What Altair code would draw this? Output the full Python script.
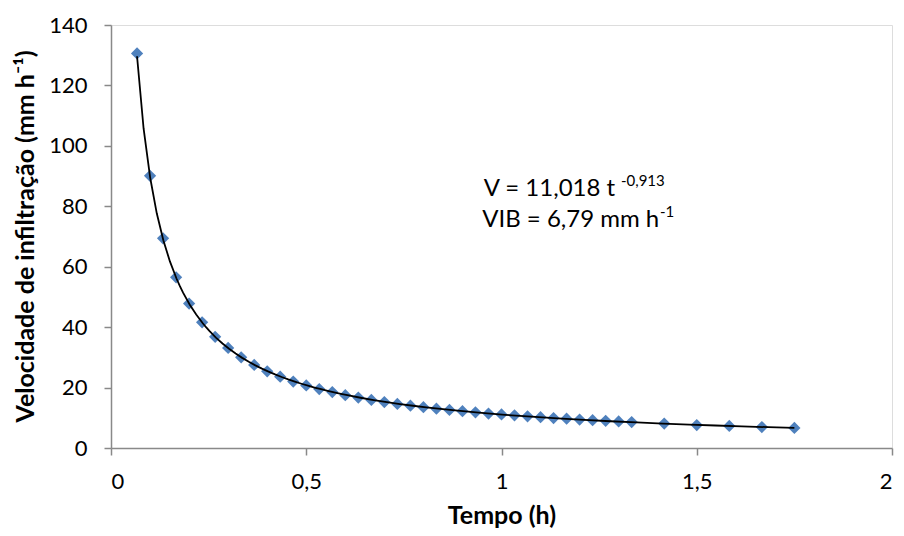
import altair as alt
import pandas as pd

# Tempo (h) and velocidade de infiltração (mm h-1)
tempo_h = [0.0667, 0.1, 0.1333, 0.1667, 0.2, 0.2333, 0.2667, 0.3, 0.3333, 0.3667,
           0.4, 0.4333, 0.4667, 0.5, 0.5333, 0.5667, 0.6, 0.6333, 0.6667, 0.7,
           0.7333, 0.7667, 0.8, 0.8333, 0.8667, 0.9, 0.9333, 0.9667, 1.0, 1.0333,
           1.0667, 1.1, 1.1333, 1.1667, 1.2, 1.2333, 1.2667, 1.3, 1.3333, 1.4167,
           1.5, 1.5833, 1.6667, 1.75]
velocidade = [130.6, 90.1, 69.4, 56.5, 47.8, 41.6, 36.8, 33.1, 30.0, 27.5,
              25.4, 23.6, 22.0, 20.7, 19.5, 18.5, 17.5, 16.7, 15.9, 15.2,
              14.6, 14.0, 13.5, 13.0, 12.6, 12.2, 11.8, 11.4, 11.1, 10.8,
              10.5, 10.2, 9.9, 9.7, 9.4, 9.2, 9.0, 8.8, 8.6, 8.1,
              7.6, 7.3, 6.95, 6.65]

x_ticks = [0, 0.5, 1, 1.5, 2]
y_ticks = [0, 20, 40, 60, 80, 100, 120, 140]

# annotation texts (main part + superscript)
ann_main = ["V = 11,018 t", "VIB = 6,79 mm h"]
ann_sup = ["-0,913", "-1"]
ann_x = [1.291, 1.404]
ann_y = [83.5, 73.3]
sup_x = [1.306, 1.406]
sup_y = [86.6, 76.3]

FONT = "Lato"
AXIS_COLOR = "#898989"

df = pd.DataFrame({"t": tempo_h, "v": velocidade})
ann_df = pd.DataFrame({"x": ann_x, "y": ann_y, "txt": ann_main})
sup_df = pd.DataFrame({"x": sup_x, "y": sup_y, "txt": ann_sup})

x_scale = alt.Scale(domain=[0, 2], nice=False, zero=False)
y_scale = alt.Scale(domain=[0, 140], nice=False)

x_axis = alt.Axis(values=x_ticks, title="Tempo (h)", grid=False,
                  labelExpr="replace(toString(datum.value), '.', ',')",
                  domainColor=AXIS_COLOR, domainWidth=1.5, tickColor=AXIS_COLOR,
                  tickWidth=1.5, tickSize=7, labelFont=FONT, labelFontSize=22,
                  labelColor="black", labelPadding=16, titleFont=FONT,
                  titleFontSize=25, titleFontWeight="bold", titleColor="black",
                  titlePadding=11)
y_axis = alt.Axis(values=y_ticks, title="Velocidade de infiltração (mm h⁻¹)",
                  grid=False, domainColor=AXIS_COLOR, domainWidth=1.5,
                  tickColor=AXIS_COLOR, tickWidth=1.5, tickSize=7,
                  labelFont=FONT, labelFontSize=22, labelColor="black",
                  labelPadding=17, titleFont=FONT, titleFontSize=25,
                  titleFontWeight="bold", titleColor="black",
                  titleX=-78, titleY=211, titleAngle=270,
                  titleAlign="center", titleBaseline="alphabetic")

points = alt.Chart(df).mark_point(shape="diamond", filled=True, size=150,
                                  color="#4F81BD", opacity=1).encode(
    x=alt.X("t:Q", scale=x_scale, axis=x_axis),
    y=alt.Y("v:Q", scale=y_scale, axis=y_axis),
)

trend = alt.Chart(df).transform_regression(
    "t", "v", method="pow"
).mark_line(color="black", strokeWidth=1.8).encode(
    x=alt.X("t:Q", scale=x_scale),
    y=alt.Y("v:Q", scale=y_scale),
)

ann = alt.Chart(ann_df).mark_text(font=FONT, fontSize=24, align="right",
                                  baseline="alphabetic", color="black").encode(
    x=alt.X("x:Q", scale=x_scale), y=alt.Y("y:Q", scale=y_scale), text="txt:N"
)
sup = alt.Chart(sup_df).mark_text(font=FONT, fontSize=15, align="left",
                                  baseline="alphabetic", color="black").encode(
    x=alt.X("x:Q", scale=x_scale), y=alt.Y("y:Q", scale=y_scale), text="txt:N"
)

chart = alt.layer(points, trend, ann, sup).properties(
    width=781, height=423,
    padding={"left": 103, "top": 17, "right": 4, "bottom": 80},
    autosize=alt.AutoSizeParams(type="none"),
).configure_view(stroke=None).configure(background="white")

chart.save("out.html", embed_options={"renderer": "svg", "actions": False})
